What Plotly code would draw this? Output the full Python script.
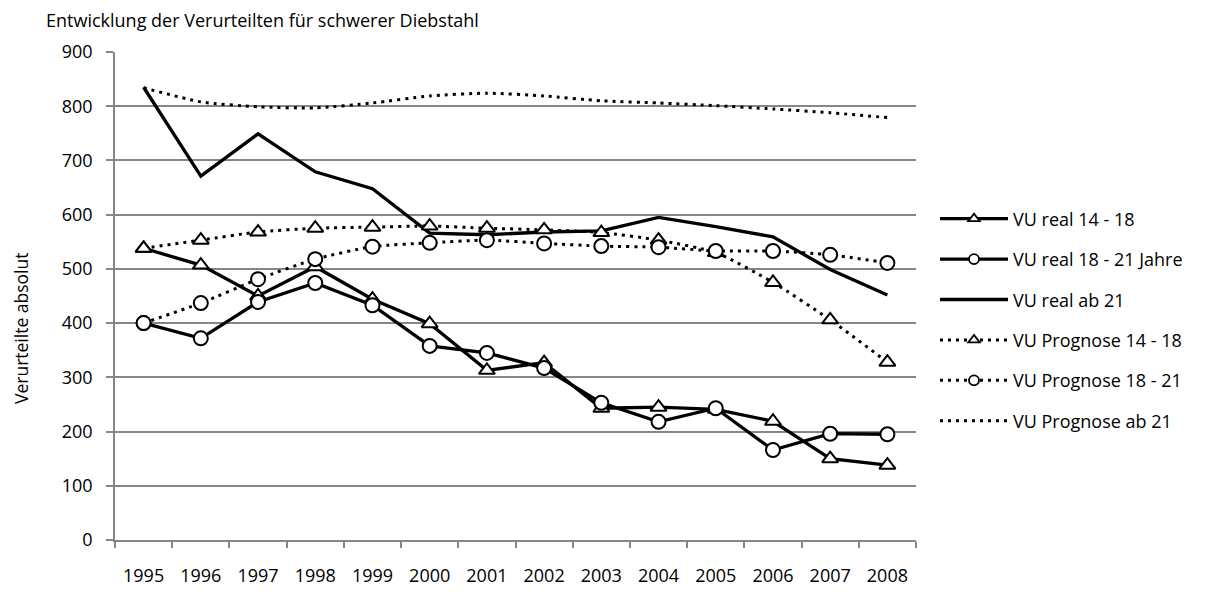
import plotly.graph_objects as go

years = ["1995", "1996", "1997", "1998", "1999", "2000", "2001",
         "2002", "2003", "2004", "2005", "2006", "2007", "2008"]

real_14_18 = [538, 507, 450, 504, 444, 399, 313, 327, 243, 245, 241, 219, 150, 138]
real_18_21 = [400, 372, 439, 474, 433, 358, 345, 317, 253, 218, 243, 166, 196, 195]
real_ab_21 = [835, 671, 749, 679, 648, 566, 563, 568, 570, 595, 578, 559, 499, 452]
prog_14_18 = [538, 553, 568, 575, 577, 579, 575, 572, 567, 553, 530, 475, 406, 328]
prog_18_21 = [400, 437, 481, 518, 541, 548, 553, 547, 542, 540, 533, 533, 526, 511]
prog_ab_21 = [834, 808, 799, 797, 806, 819, 824, 819, 810, 806, 801, 795, 788, 779]

names = ["VU real 14 - 18", "VU real 18 - 21 Jahre", "VU real ab 21",
         "VU Prognose 14 - 18", "VU Prognose 18 - 21", "VU Prognose ab 21"]

FONT = "'Open Sans', sans-serif"
W, H = 1224, 592          # page adds an 8px body margin
L, R, T, B = 107, 316, 44, 60
PW, PH = W - L - R, H - T - B

fig = go.Figure()

series = [
    (real_14_18, names[0], "solid", "triangle-up", "linear"),
    (real_18_21, names[1], "solid", "circle", "linear"),
    (real_ab_21, names[2], "solid", None, "linear"),
    (prog_14_18, names[3], "3px,5px", "triangle-up", "spline"),
    (prog_18_21, names[4], "3px,5px", "circle", "spline"),
    (prog_ab_21, names[5], "3px,5px", None, "spline"),
]

for i, (vals, name, dash, sym, shape) in enumerate(series):
    lw = 3.3 if dash == "solid" else 3
    line = dict(color="black", width=lw, dash=dash, shape=shape)
    if shape == "spline":
        line["smoothing"] = 0.6
    if sym:
        marker = dict(symbol=sym, size=14, color="white",
                      line=dict(color="black", width=2))
        mode = "lines+markers"
    else:
        marker = None
        mode = "lines"
    fig.add_trace(go.Scatter(x=years, y=vals, name=name, mode=mode,
                             line=line, marker=marker, showlegend=False))
    # legend entry with smaller symbols, as in the reference
    lmarker = None
    if sym:
        lmarker = dict(symbol=sym, size=10, color="white",
                       line=dict(color="black", width=1.8))
    fig.add_trace(go.Scatter(x=[years[0]], y=[None], name=name, mode=mode,
                             line=dict(color="black", width=lw, dash=dash),
                             marker=lmarker, showlegend=True,
                             legendgroup=f"g{i}"))

fig.update_layout(
    width=W, height=H,
    paper_bgcolor="white", plot_bgcolor="white",
    margin=dict(l=L, r=R, t=T, b=B),
    font=dict(family=FONT, size=18, color="black"),
    title=dict(text="Entwicklung der Verurteilten für schwerer Diebstahl",
               x=38 / W, xref="container", xanchor="left",
               y=1 - 13 / H, yref="container", yanchor="middle",
               font=dict(family=FONT, size=18, color="black")),
    showlegend=True,
    legend=dict(x=(927 - L) / PW, xanchor="left",
                y=(532 - 312) / PH, yanchor="middle",
                font=dict(family=FONT, size=18, color="black"),
                itemwidth=68, tracegroupgap=14, bgcolor="rgba(0,0,0,0)"),
    annotations=[dict(text="Verurteilte absolut", textangle=-90,
                      xref="paper", yref="paper",
                      x=(13 - L) / PW, y=(532 - 320) / PH,
                      xanchor="center", yanchor="middle", showarrow=False,
                      font=dict(family=FONT, size=17.5, color="black"))],
)

fig.update_xaxes(
    type="category", range=[-0.5, 13.5],
    showgrid=False, showline=True, linecolor="#868686", linewidth=1.5,
    ticks="outside", tickson="boundaries", ticklen=6, tickcolor="#868686",
    tickwidth=1.5, ticklabelstandoff=19,
    tickfont=dict(family=FONT, size=18, color="black"),
)
fig.update_yaxes(
    range=[0, 900], dtick=100,
    showgrid=True, gridcolor="#868686", gridwidth=1.5,
    showline=True, linecolor="#868686", linewidth=1.5,
    ticks="outside", ticklen=7, tickcolor="#868686", tickwidth=1.5,
    ticklabelstandoff=10, zeroline=False,
    tickfont=dict(family=FONT, size=18, color="black"),
)

fig.write_html("out.html")
